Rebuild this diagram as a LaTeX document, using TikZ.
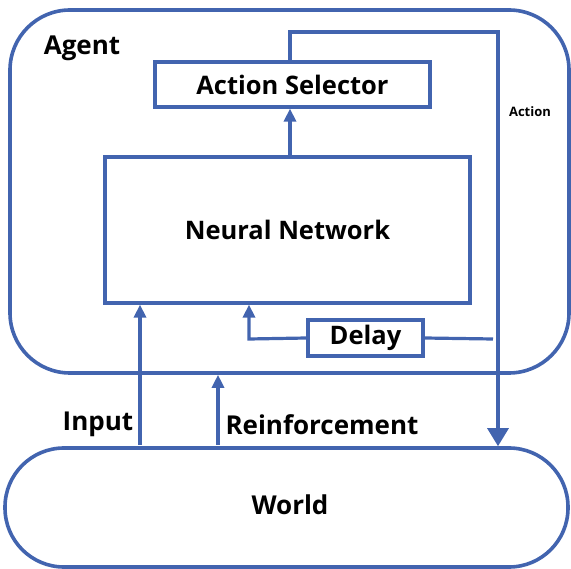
\documentclass[tikz,border=0pt]{standalone}
\usepackage{fontspec}
\setmainfont{Open Sans}
\usetikzlibrary{arrows.meta,positioning,calc}
\definecolor{rlblue}{RGB}{66,100,175}
\tikzset{
  frm/.style  ={rectangle,draw=rlblue,line width=3.6pt,rounded corners=60pt,inner sep=0pt},
  blk/.style  ={rectangle,draw=rlblue,line width=3.2pt,inner sep=0pt,
                 font=\bfseries\fontsize{25.5}{30}\selectfont},
  sig/.style  ={-{Triangle[length=13pt,width=12pt]},draw=rlblue,line width=3.2pt},
  sigw/.style ={sig,-{Triangle[length=18pt,width=21pt]}},
  wire/.style ={draw=rlblue,line width=3.2pt},
  lbl/.style  ={font=\bfseries\fontsize{26}{30}\selectfont,inner sep=0pt},
  lbls/.style ={font=\bfseries\fontsize{13}{15}\selectfont,inner sep=0pt},
}

\begin{document}
\begin{tikzpicture}[x=1pt,y=-1pt]
  \useasboundingbox (0,0) rectangle (571,569);
  % outer frames
  \node[frm,minimum width=559pt,minimum height=363pt] (agent) at (289.5,191.5) {};
  \node[frm,minimum width=563pt,minimum height=119pt,rounded corners=59pt]
                              (world) at (286.5,507.5) {};
  % blocks
  \node[blk,minimum width=275pt,minimum height=45pt] (sel)   at (292.5,84.5) {Action Selector};
  \node[blk,minimum width=365pt,minimum height=146pt] (nn)   at (287.5,230) {Neural Network};
  \node[blk,minimum width=115pt,minimum height=36pt]  (delay) at (365.5,338) {Delay};
  % labels
  \node[lbl] (agentl) at (82,48)   {Agent};
  \node[lbl] (worldl) at (290,505) {World};
  \node[lbl] (inl)    at (98,424)  {Input};
  \node[lbl] (rfl)    at (322,425) {Reinforcement};
  \node[lbls] (actl)  at (530,112) {Action};
  % helper points
  \coordinate (actx)  at (290,32);
  \coordinate (actr)  at (498,32);
  \coordinate (dly)   at (493,339);
  \coordinate (fb)    at (249,339);
  \coordinate (inp)   at (140,445);
  \coordinate (rein)  at (218,445);
  % network -> selector
  \draw[sig] (nn.north -| actx) -- (sel.south -| actx);
  % selector -> world
  \draw[sigw] (sel.north -| actx) -- (actx) -- (actr) -- (world.north -| actr);
  % delay loop
  \draw[wire] (dly) -- (delay.east);
  \draw[sig] (delay.west) -- (fb) -- (nn.south -| fb);
  % world -> agent
  \draw[sig] (inp) -- (nn.south -| inp);
  \draw[sig] (rein) -- (agent.south -| rein);
\end{tikzpicture}
\end{document}
